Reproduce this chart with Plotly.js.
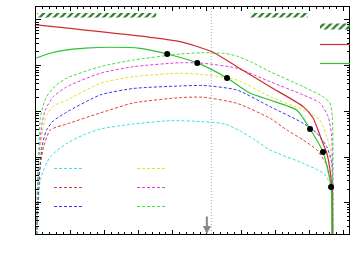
<!DOCTYPE html>
<html><head><meta charset="utf-8">
<script src="https://cdn.plot.ly/plotly-3.0.1.min.js"></script>
<style>html,body{margin:0;padding:0;background:#fff}#c{width:353px;height:266px}</style>
</head><body><div id="c"></div>
<script>
// ---- data ----
var redSolidX = [0.09,10.03,18.8,27.6,33.4,42.2,51.5,58.8,68.5,78.2,81.1,82.3,83.6,85.1,86.05,86.55,86.7];
var redSolidY = [7.78,6.52,5.55,4.70,4.18,3.35,2.02,0.951,0.347,0.127,0.0718,0.0434,0.0237,0.0123,0.00522,0.00225,0.000153];

var greenSolidX = [0.09,4.18,9.06,14.4,21.7,30.5,38.4,47.2,55.9,62.7,68.5,76.3,80.2,84.0,86.35,86.6];
var greenSolidY = [1.47,1.87,2.21,2.42,2.53,2.40,1.80,1.15,0.538,0.249,0.177,0.107,0.0412,0.0129,0.00222,0.000153];

var dotsX = [38.4,47.2,55.9,80.2,84.0,86.35];
var dotsY = [1.80,1.15,0.538,0.0412,0.0129,0.00222];

var greenDashX = [0.15,0.38,0.82,1.26,2.43,3.6,5.64,9.06,18.8,28.5,42.2,48.9,55.3,58.8,63.5,68.5,78.2,84.0,86.05,86.7,86.9,86.95];
var greenDashY = [0.000153,0.00191,0.0143,0.0718,0.161,0.240,0.360,0.538,0.951,1.33,1.80,1.92,1.85,1.63,1.15,0.740,0.347,0.210,0.153,0.0766,0.0237,0.000153];

var magentaDashX = [0.15,0.44,0.96,1.7,2.72,5.06,9.06,18.8,28.5,42.2,48.9,58.8,68.5,78.2,83.1,85.5,86.5,86.8,86.9];
var magentaDashY = [0.000153,0.00191,0.0143,0.0504,0.107,0.210,0.347,0.682,0.951,1.16,1.13,0.877,0.447,0.229,0.153,0.0766,0.0305,0.00525,0.000153];

var yellowDashX = [0.15,0.53,1.11,1.84,3.1,5.06,9.06,18.8,28.5,42.2,48.9,58.8,68.5,78.2,83.1,85.1,86.55,86.8,86.9];
var yellowDashY = [0.000153,0.00191,0.0111,0.0354,0.0834,0.131,0.177,0.412,0.574,0.682,0.641,0.486,0.210,0.107,0.0649,0.0279,0.0102,0.00191,0.000153];

var blueDashX = [0.15,0.61,1.11,1.84,3.1,5.06,9.06,18.8,28.5,42.2,48.9,58.8,68.5,78.2,82.2,85.1,86.55,86.8,86.9];
var blueDashY = [0.000155,0.00115,0.00525,0.0184,0.0392,0.0617,0.0971,0.229,0.317,0.360,0.369,0.294,0.127,0.0550,0.0332,0.0169,0.00743,0.00115,0.000155];

var redDashX = [0.15,0.53,1.26,2.22,4.18,9.06,18.8,28.5,42.2,48.9,58.8,68.5,73.4,78.2,82.2,85.1,86.2,86.72,86.8];
var redDashY = [0.000155,0.00115,0.00671,0.0166,0.0392,0.0530,0.0923,0.153,0.200,0.204,0.150,0.0706,0.0392,0.0237,0.0143,0.00671,0.00316,0.00115,0.000155];

var cyanDashX = [0.23,0.29,1.26,4.18,9.06,13.9,18.8,28.5,39.3,48.9,55.3,59.8,64.1,68.5,78.2,84.1,86.05,86.6,86.7];
var cyanDashY = [0.000155,0.000254,0.00316,0.0102,0.0200,0.0305,0.0412,0.0530,0.0625,0.0596,0.0530,0.0372,0.0237,0.0143,0.00731,0.00443,0.00271,0.00115,0.000155];

var band1X = [0.38,35.2,35.2,0.38,0.38];
var band2X = [62.7,79.6,79.6,62.7,62.7];
var bandY = [11.35,11.35,14.2,14.2,11.35];

var refLineX = 51.3;
var arrowX = 50;

// ---- traces ----
var SM = 0.6;
function dashed(x,y,c,lg){return {x:x,y:y,mode:'lines',type:'scatter',name:' ',legend:lg,line:{color:c,width:1,dash:'3px,2px',shape:'spline',smoothing:SM}};}
var pat = {shape:'/',fgcolor:'#2a7a2a',bgcolor:'rgba(0,0,0,0)',size:5,solidity:0.45};
var traces = [
  dashed(cyanDashX,cyanDashY,'#40dede','legend'),
  dashed(redDashX,redDashY,'#e04040','legend'),
  dashed(blueDashX,blueDashY,'#3838e8','legend'),
  dashed(yellowDashX,yellowDashY,'#e2e232','legend2'),
  dashed(magentaDashX,magentaDashY,'#e040e0','legend2'),
  dashed(greenDashX,greenDashY,'#40e040','legend2'),
  {x:band1X,y:bandY,type:'scatter',mode:'lines',fill:'toself',name:' ',legend:'legend3',line:{width:0,color:'#2a7a2a'},fillcolor:'rgba(0,0,0,0)',fillpattern:pat},
  {x:band2X,y:bandY,type:'scatter',mode:'lines',fill:'toself',showlegend:false,line:{width:0,color:'#2a7a2a'},fillcolor:'rgba(0,0,0,0)',fillpattern:pat},
  {x:redSolidX,y:redSolidY,type:'scatter',mode:'lines',name:' ',legend:'legend3',line:{color:'#cc3030',width:1.2,shape:'spline',smoothing:SM}},
  {x:greenSolidX,y:greenSolidY,type:'scatter',mode:'lines',name:' ',legend:'legend3',line:{color:'#30c030',width:1.2,shape:'spline',smoothing:SM}},
  {x:dotsX,y:dotsY,type:'scatter',mode:'markers',showlegend:false,marker:{color:'#000',size:6}}
];

var axCommon = {showline:true,linecolor:'#000',linewidth:1,mirror:'ticks',ticks:'inside',
  showgrid:false,zeroline:false,showticklabels:false,tickcolor:'#000'};
var legCommon = {bgcolor:'rgba(0,0,0,0)',borderwidth:0,font:{size:10,family:'DejaVu Sans'},itemwidth:30,xanchor:'left',yanchor:'top',tracegroupgap:0};
var layout = {
  width:353,height:266,
  margin:{l:36,r:4,t:7,b:32,autoexpand:false},
  paper_bgcolor:'#fff',plot_bgcolor:'#fff',
  xaxis:Object.assign({},axCommon,{range:[0,91.6],dtick:10,tick0:0,ticklen:4,
    minor:{dtick:2,ticks:'inside',ticklen:2,tickcolor:'#000'}}),
  yaxis:Object.assign({},axCommon,{type:'log',range:[-3.683,1.284],dtick:1,ticklen:5,
    minor:{ticks:'inside',ticklen:2.5,tickcolor:'#000'}}),
  legend:Object.assign({},legCommon,{x:(49-36)/313,y:(234-154)/227}),
  legend2:Object.assign({},legCommon,{x:(132-36)/313,y:(234-154)/227}),
  legend3:Object.assign({},legCommon,{x:(315-36)/313,y:(234-11)/227}),
  shapes:[{type:'line',xref:'x',yref:'paper',x0:refLineX,x1:refLineX,y0:0,y1:1,line:{color:'#aaa',width:1,dash:'1px,2px'}}],
  annotations:[{x:arrowX,xref:'x',y:0,yref:'paper',ax:0,ay:-19,showarrow:true,arrowhead:2,arrowsize:0.8,arrowwidth:2,arrowcolor:'#888',text:''}]
};
Plotly.newPlot('c',traces,layout,{staticPlot:true,displayModeBar:false});
</script></body></html>
